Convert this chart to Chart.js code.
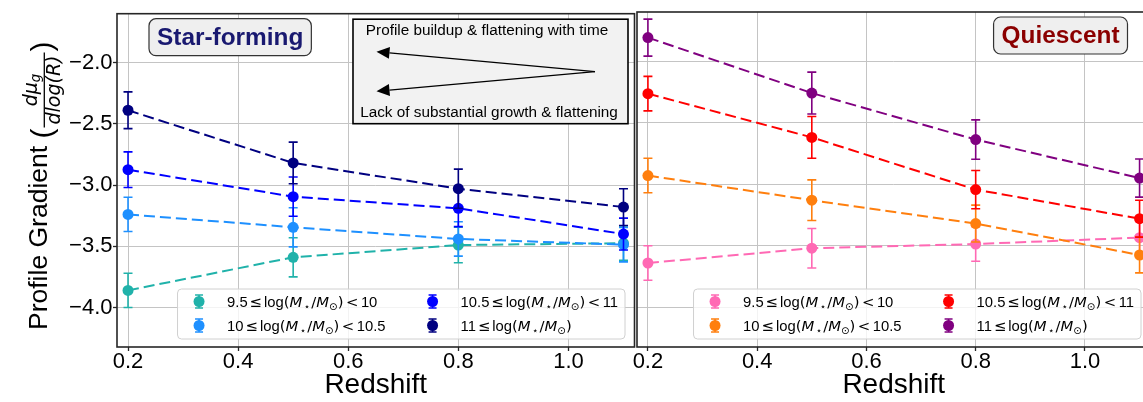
<!DOCTYPE html>
<html>
<head>
<meta charset="utf-8">
<script src="https://cdn.jsdelivr.net/npm/chart.js@4.4.1/dist/chart.umd.min.js"></script>
<style>
  html, body { margin: 0; padding: 0; background: #fff; overflow: hidden; width: 1143px; height: 402px; }
  #sf { position: absolute; left: 0; top: 0; }
  #q { position: absolute; left: 616px; top: 0; }
</style>
</head>
<body>
<canvas id="sf" width="656" height="402"></canvas>
<canvas id="q" width="540" height="402"></canvas>
<script>
const redshift = [0.2, 0.5, 0.8, 1.1];
const xTicks = [0.2, 0.4, 0.6, 0.8, 1.0];
const yTicks = [-4.0, -3.5, -3.0, -2.5, -2.0];
const binLow = ['9.5', '10', '10.5', '11'];
const binHigh = ['10', '10.5', '11', null];

// star-forming gradients per mass bin (rows) vs redshift, with 1-sigma errors
const sfGrad = [
  [-3.86, -3.59, -3.49, -3.475],
  [-3.24, -3.345, -3.44, -3.487],
  [-2.875, -3.095, -3.19, -3.40],
  [-2.39, -2.82, -3.03, -3.18]
];
const sfErr = [
  [0.14, 0.16, 0.145, 0.14],
  [0.14, 0.16, 0.14, 0.14],
  [0.145, 0.16, 0.15, 0.13],
  [0.15, 0.17, 0.16, 0.15]
];

// quiescent gradients
const qGrad = [
  [-3.64, -3.52, -3.486, -3.434],
  [-2.93, -3.13, -3.32, -3.575],
  [-2.265, -2.62, -3.044, -3.28],
  [-1.81, -2.26, -2.638, -2.95]
];
const qErr = [
  [0.14, 0.16, 0.14, 0.13],
  [0.14, 0.165, 0.15, 0.145],
  [0.14, 0.17, 0.155, 0.15],
  [0.15, 0.17, 0.16, 0.155]
];

const sfColors = ['#20b2aa', '#1e90ff', '#0000ff', '#000080'];
const qColors = ['#ff69b4', '#ff7f0e', '#ff0000', '#800080'];

const TXT = '"Liberation Sans", Arial, sans-serif';
const MATH = '"DejaVu Sans", sans-serif';

function fontFor(kind, size) {
  if (kind === 'it') return 'italic ' + size + 'px ' + MATH;
  if (kind === 'math') return size + 'px ' + MATH;
  if (kind === 'bold') return 'bold ' + size + 'px ' + TXT;
  return size + 'px ' + TXT;
}

// draws a run of mixed-font pieces starting at x on baseline y, returns width
function drawRich(ctx, parts, x, y, size, dry, subDrop) {
  const drop = subDrop === undefined ? 0.22 : subDrop;
  let cx = x;
  for (const p of parts) {
    const s = p.sub ? size * 0.7 : size;
    ctx.font = fontFor(p.f, s);
    cx += p.pre || 0;
    if (!dry) ctx.fillText(p.t, cx, y + (p.sub ? size * drop : 0));
    cx += ctx.measureText(p.t).width + (p.post || 0);
  }
  return cx - x;
}

function binLabel(i) {
  const parts = [
    { t: binLow[i], f: 'txt' },
    { t: '≤', f: 'math', pre: 2, post: 2 },
    { t: 'log', f: 'txt' },
    { t: '(', f: 'math' },
    { t: 'M', f: 'it' },
    { t: '⋆', f: 'math', sub: true, pre: 1.5 },
    { t: '/', f: 'math', pre: 1 },
    { t: 'M', f: 'it' },
    { t: '⊙', f: 'math', sub: true },
    { t: ')', f: 'math' }
  ];
  if (binHigh[i] !== null) {
    parts.push({ t: '<', f: 'math', pre: 2.5, post: 2.5 });
    parts.push({ t: binHigh[i], f: 'txt' });
  }
  return parts;
}

// vertical error bar with caps, in data units via the chart's scales
function drawErrorBar(ctx, xs, ys, x, y, e, color) {
  const px = xs.getPixelForValue(x);
  const top = ys.getPixelForValue(y + e);
  const bot = ys.getPixelForValue(y - e);
  ctx.strokeStyle = color;
  ctx.lineWidth = 1.6;
  ctx.beginPath();
  ctx.moveTo(px, top); ctx.lineTo(px, bot);
  ctx.moveTo(px - 4.5, top); ctx.lineTo(px + 4.5, top);
  ctx.moveTo(px - 4.5, bot); ctx.lineTo(px + 4.5, bot);
  ctx.stroke();
}

const errorBars = {
  id: 'errorBars',
  beforeDatasetDraw(chart, args) {
    const ds = chart.data.datasets[args.index];
    const ctx = chart.ctx;
    ctx.save();
    ds.data.forEach((pt, j) => {
      drawErrorBar(ctx, chart.scales.x, chart.scales.y, pt.x, pt.y, ds.errors[j], ds.borderColor);
    });
    ctx.restore();
  }
};

function roundRect(ctx, x, y, w, h, r) {
  ctx.beginPath();
  ctx.moveTo(x + r, y);
  ctx.arcTo(x + w, y, x + w, y + h, r);
  ctx.arcTo(x + w, y + h, x, y + h, r);
  ctx.arcTo(x, y + h, x, y, r);
  ctx.arcTo(x, y, x + w, y, r);
  ctx.closePath();
}

const panelDecor = {
  id: 'panelDecor',
  afterDraw(chart, args, opts) {
    const ctx = chart.ctx;
    const ca = chart.chartArea;
    ctx.save();

    // axes frame
    ctx.strokeStyle = '#262626';
    ctx.lineWidth = 1.6;
    ctx.strokeRect(ca.left, ca.top, ca.right - ca.left, ca.bottom - ca.top);

    // panel title box
    ctx.font = fontFor('bold', 24.4);
    const tw = ctx.measureText(opts.title).width;
    const bw = tw + 16, bh = 37;
    const bx = opts.titleAlign === 'left' ? ca.left + opts.titleOffset : ca.right - opts.titleOffset - bw;
    const by = ca.top + 5;
    roundRect(ctx, bx, by, bw, bh, 7);
    ctx.fillStyle = '#efefef';
    ctx.fill();
    ctx.lineWidth = 1.2;
    ctx.strokeStyle = '#333';
    ctx.stroke();
    ctx.fillStyle = opts.titleColor;
    ctx.textAlign = 'center';
    ctx.textBaseline = 'middle';
    ctx.fillText(opts.title, bx + bw / 2, by + bh / 2 + 1);

    // legend, two columns, anchored lower right
    const ds = chart.data.datasets;
    const fs = 14.8;
    const w = ds.map((d, i) => drawRich(ctx, binLabel(i), 0, 0, fs, true));
    const w1 = Math.max(w[0], w[1]);
    const w2 = Math.max(w[2], w[3]);
    const lw = 49.5 + w1 + 75 + w2 + 7;
    const lh = 50;
    const lx = ca.right - 9.5 - lw;
    const ly = ca.bottom - 8 - lh;
    roundRect(ctx, lx, ly, lw, lh, 4);
    ctx.fillStyle = 'rgba(255,255,255,0.8)';
    ctx.fill();
    ctx.strokeStyle = '#d0d0d0';
    ctx.lineWidth = 1;
    ctx.stroke();
    ctx.textAlign = 'left';
    ctx.textBaseline = 'alphabetic';
    ds.forEach((d, i) => {
      const col = Math.floor(i / 2), row = i % 2;
      const tx = lx + 49.5 + col * (w1 + 75);
      const mx = tx - 28;
      const my = ly + 12.5 + row * 24;
      ctx.strokeStyle = d.borderColor;
      ctx.lineWidth = 1.6;
      ctx.beginPath();
      ctx.moveTo(mx, my - 6.5); ctx.lineTo(mx, my + 6.5);
      ctx.moveTo(mx - 4, my - 6.5); ctx.lineTo(mx + 4, my - 6.5);
      ctx.moveTo(mx - 4, my + 6.5); ctx.lineTo(mx + 4, my + 6.5);
      ctx.stroke();
      ctx.fillStyle = d.borderColor;
      ctx.beginPath();
      ctx.arc(mx, my, 5.5, 0, Math.PI * 2);
      ctx.fill();
      ctx.fillStyle = '#000';
      drawRich(ctx, binLabel(i), tx, my + fs * 0.36, fs, false);
    });

    if (opts.yTitle) drawYTitle(ctx);
    if (opts.note) drawNote(ctx, ca);
    ctx.restore();
  }
};

// rotated axis label with a fraction
function drawYTitle(ctx) {
  ctx.save();
  ctx.translate(46.5, 330);
  ctx.rotate(-Math.PI / 2);
  ctx.fillStyle = '#000';
  ctx.textAlign = 'left';
  ctx.textBaseline = 'alphabetic';
  ctx.font = fontFor('txt', 26.5);
  const head = 'Profile Gradient ';
  ctx.fillText(head, 0, 0);
  let u = ctx.measureText(head).width;
  ctx.font = fontFor('txt', 30);
  ctx.fillText('(', u, 5);
  u += ctx.measureText('(').width + 1;

  const den = [{ t: 'dlog(R)', f: 'it' }];
  const num = [{ t: 'dμ', f: 'it' }, { t: 'g', f: 'it', sub: true }];
  const fw = drawRich(ctx, den, 0, 0, 19, true) + 6;
  const nw = drawRich(ctx, num, 0, 0, 19, true);
  drawRich(ctx, num, u + (fw - nw) / 2, -9.5, 19, false, 0.15);
  drawRich(ctx, den, u + 3, 13.5, 19, false);
  ctx.strokeStyle = '#000';
  ctx.lineWidth = 1.3;
  ctx.beginPath();
  ctx.moveTo(u, -2.2); ctx.lineTo(u + fw, -2.2);
  ctx.stroke();
  u += fw + 1;
  ctx.font = fontFor('txt', 30);
  ctx.fillText(')', u, 5);
  ctx.restore();
}

// boxed note with two arrows
function drawNote(ctx, ca) {
  const x = ca.left + 236, y = ca.top + 5.5, w = 275, h = 104.5;
  ctx.fillStyle = '#f2f2f2';
  ctx.fillRect(x, y, w, h);
  ctx.strokeStyle = '#000';
  ctx.lineWidth = 1.6;
  ctx.strokeRect(x, y, w, h);
  ctx.fillStyle = '#000';
  ctx.font = fontFor('txt', 15.3);
  ctx.textAlign = 'center';
  ctx.textBaseline = 'middle';
  ctx.fillText('Profile buildup & flattening with time', x + 134, y + 12);
  ctx.fillText('Lack of substantial growth & flattening', x + 136, y + 94);
  const tail = [x + 242, y + 52.5];
  [[x + 23.5, y + 32.5], [x + 23.5, y + 72]].forEach(([hx, hy]) => {
    const a = Math.atan2(hy - tail[1], hx - tail[0]);
    const len = 13, half = 6;
    const bxp = hx - len * Math.cos(a), byp = hy - len * Math.sin(a);
    ctx.lineWidth = 1.2;
    ctx.beginPath();
    ctx.moveTo(tail[0], tail[1]);
    ctx.lineTo(bxp, byp);
    ctx.stroke();
    ctx.beginPath();
    ctx.moveTo(hx, hy);
    ctx.lineTo(bxp + half * Math.sin(a), byp - half * Math.cos(a));
    ctx.lineTo(bxp - half * Math.sin(a), byp + half * Math.cos(a));
    ctx.closePath();
    ctx.fill();
  });
}

function fmtTick(v) {
  return (v < 0 ? '\u2212' : '') + Math.abs(v).toFixed(1);
}

function makePanel(id, grad, err, colors, decor, isLeft) {
  const datasets = grad.map((g, i) => ({
    label: binLow[i],
    data: redshift.map((z, j) => ({ x: z, y: g[j] })),
    errors: err[i],
    borderColor: colors[i],
    backgroundColor: colors[i],
    borderWidth: 2,
    borderDash: [11, 5],
    pointRadius: 5.5,
    pointBorderWidth: 0,
    pointHoverRadius: 5.5,
    tension: 0,
    order: grad.length - 1 - i,
    clip: false
  }));

  return new Chart(document.getElementById(id), {
    type: 'line',
    data: { datasets },
    options: {
      responsive: false,
      animation: false,
      events: [],
      // canvases overlap a little so tick labels never force extra padding
      layout: { padding: { left: isLeft ? 0 : 21, right: isLeft ? 21.5 : 2, top: 12, bottom: 0 } },
      plugins: { legend: { display: false }, tooltip: { enabled: false }, panelDecor: decor },
      scales: {
        x: {
          type: 'linear',
          min: 0.18,
          max: 1.12,
          afterBuildTicks: s => { s.ticks = xTicks.map(v => ({ value: v })); },
          afterFit: s => { s.height = 55; },
          grid: { color: '#c4c4c4', lineWidth: 1, tickColor: '#262626', tickLength: 4, tickWidth: 1.3 },
          border: { display: false },
          ticks: { color: '#000', font: { family: TXT, size: 22 }, padding: -2.5, callback: v => v.toFixed(1), maxRotation: 0 },
          title: { display: true, text: 'Redshift', color: '#000', font: { family: TXT, size: 28 }, padding: { top: 0, bottom: 0 } }
        },
        y: {
          type: 'linear',
          min: -4.322,
          max: -1.602,
          afterBuildTicks: s => { s.ticks = yTicks.map(v => ({ value: v })); },
          afterFit: s => { s.width = isLeft ? 117 : 0; },
          grid: { color: '#c4c4c4', lineWidth: 1, tickColor: '#262626', tickLength: 4, tickWidth: 1.3, drawTicks: isLeft },
          border: { display: false },
          ticks: { display: isLeft, color: '#000', font: { family: TXT, size: 22 }, padding: 0.5, callback: fmtTick }
        }
      }
    },
    plugins: [errorBars, panelDecor]
  });
}

makePanel('sf', sfGrad, sfErr, sfColors,
  { title: 'Star-forming', titleColor: '#191970', titleAlign: 'left', titleOffset: 32, yTitle: true, note: true }, true);
makePanel('q', qGrad, qErr, qColors,
  { title: 'Quiescent', titleColor: '#8b0000', titleAlign: 'right', titleOffset: 23, yTitle: false, note: false }, false);
</script>
</body>
</html>
